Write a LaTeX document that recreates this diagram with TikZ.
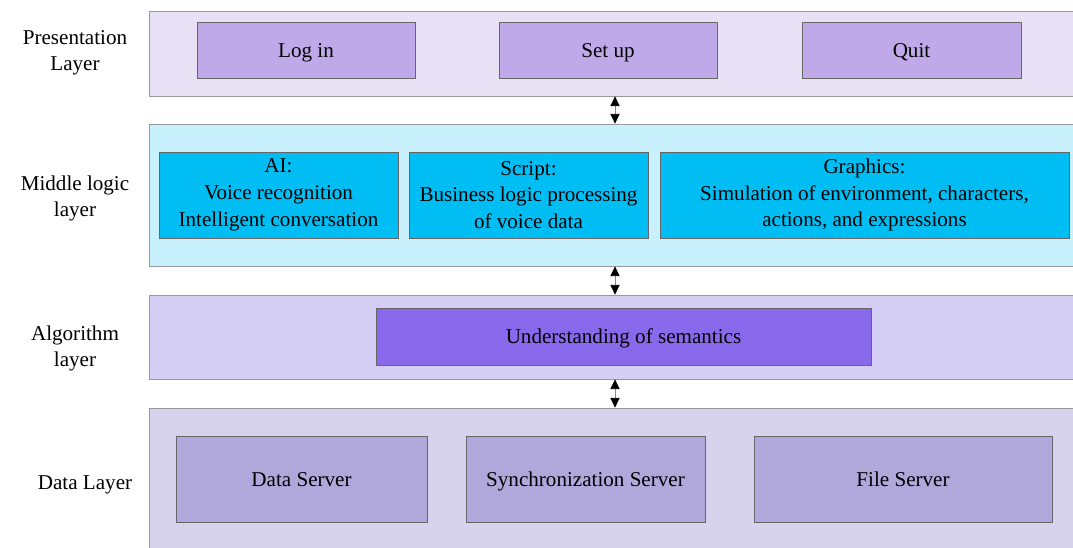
\documentclass[tikz,border=0pt]{standalone}
\usepackage{fontspec}
\setmainfont{Liberation Serif}
\usetikzlibrary{fit,arrows.meta}

\definecolor{presband}{HTML}{E8E1F5}
\definecolor{presbox}{HTML}{BFA9E9}
\definecolor{midband}{HTML}{C9F1FD}
\definecolor{midbox}{HTML}{00BEF3}
\definecolor{algband}{HTML}{D5CFF6}
\definecolor{algbox}{HTML}{8969EB}
\definecolor{databand}{HTML}{D8D3EC}
\definecolor{databox}{HTML}{B0A7DA}

\tikzset{%
  % Specifications for style of nodes:
         band/.style = {rectangle, draw=black!40, line width=0.6pt, inner sep=0pt},
          box/.style = {rectangle, draw=black!60, line width=0.6pt, inner sep=0pt},
      boxtext/.style = {text height=12pt, text depth=2pt},
     multitxt/.style = {align=center, font=\fontsize{15}{19}\selectfont},
     layertxt/.style = {align=center},
          dbl/.style = {{Triangle[length=2.4mm,width=2.3mm,color=black]}-{Triangle[length=2.4mm,width=2.3mm,color=black]}, draw=black!45, line width=0.5pt},
}

\begin{document}
\begin{tikzpicture}[x=0.025cm, y=-0.025cm, every node/.style={font=\fontsize{15}{18.5}\selectfont}]
    \useasboundingbox (0,0) rectangle (1073,547);

    % Draw layers
    \node (pres) [band, fill=presband, fit={(149,11) (1080,96)}]   {};
    \node (mid)  [band, fill=midband,  fit={(149,124) (1080,266)}] {};
    \node (alg)  [band, fill=algband,  fit={(149,295) (1080,379)}] {};
    \node (data) [band, fill=databand, fit={(149,408) (1080,560)}] {};

    % Draw layer names
    \node (presname) [layertxt] at (75,52.5)  {Presentation\\Layer};
    \node (midname)  [layertxt] at (75,198.5) {Middle logic\\layer};
    \node (algname)  [layertxt] at (75,348.5) {Algorithm\\layer};
    \node (dataname) [layertxt, boxtext] at (85,482) {Data Layer};

    % Draw nodes
    \node (login)    [box, fill=presbox, fit={(197,22) (415,78)}]   {};
    \node (setup)    [box, fill=presbox, fit={(499,22) (717,78)}]   {};
    \node (quit)     [box, fill=presbox, fit={(802,22) (1021,78)}]  {};
    \node (ai)       [box, fill=midbox, fit={(159,152) (398,238)}]  {};
    \node (script)   [box, fill=midbox, fit={(409,152) (648,238)}]  {};
    \node (graphics) [box, fill=midbox, fit={(660,152) (1069,238)}] {};
    \node (sem)      [box, fill=algbox, fit={(376,308) (871,365)}]  {};
    \node (dserver)  [box, fill=databox, fit={(176,436) (427,522)}] {};
    \node (sync)     [box, fill=databox, fit={(466,436) (705,522)}] {};
    \node (fserver)  [box, fill=databox, fit={(754,436) (1052,522)}] {};

    % Texts of nodes
    \node (logintxt)    [boxtext] at (login)    {Log in};
    \node (setuptxt)    [boxtext] at (setup)    {Set up};
    \node (quittxt)     [boxtext] at (quit)     {Quit};
    \node (aitxt)       [multitxt] at (ai)       {AI:\\Voice recognition\\Intelligent conversation};
    \node (scripttxt)   [multitxt] at (script)   {Script:\\Business logic processing\\of voice data};
    \node (graphicstxt) [multitxt] at (graphics) {Graphics:\\Simulation of environment, characters,\\actions, and expressions};
    \node (semtxt)      [boxtext] at (sem)      {Understanding of semantics};
    \node (dservertxt)  [boxtext] at (dserver)  {Data Server};
    \node (synctxt)     [boxtext] at (sync)     {Synchronization Server};
    \node (fservertxt)  [boxtext] at (fserver)  {File Server};

    % Draw arrows
    \coordinate (ax) at (615,0);
    \draw[dbl] (pres.south -| ax) -- (mid.north -| ax);
    \draw[dbl] (mid.south -| ax)  -- (alg.north -| ax);
    \draw[dbl] (alg.south -| ax)  -- (data.north -| ax);

\end{tikzpicture}
\end{document}
